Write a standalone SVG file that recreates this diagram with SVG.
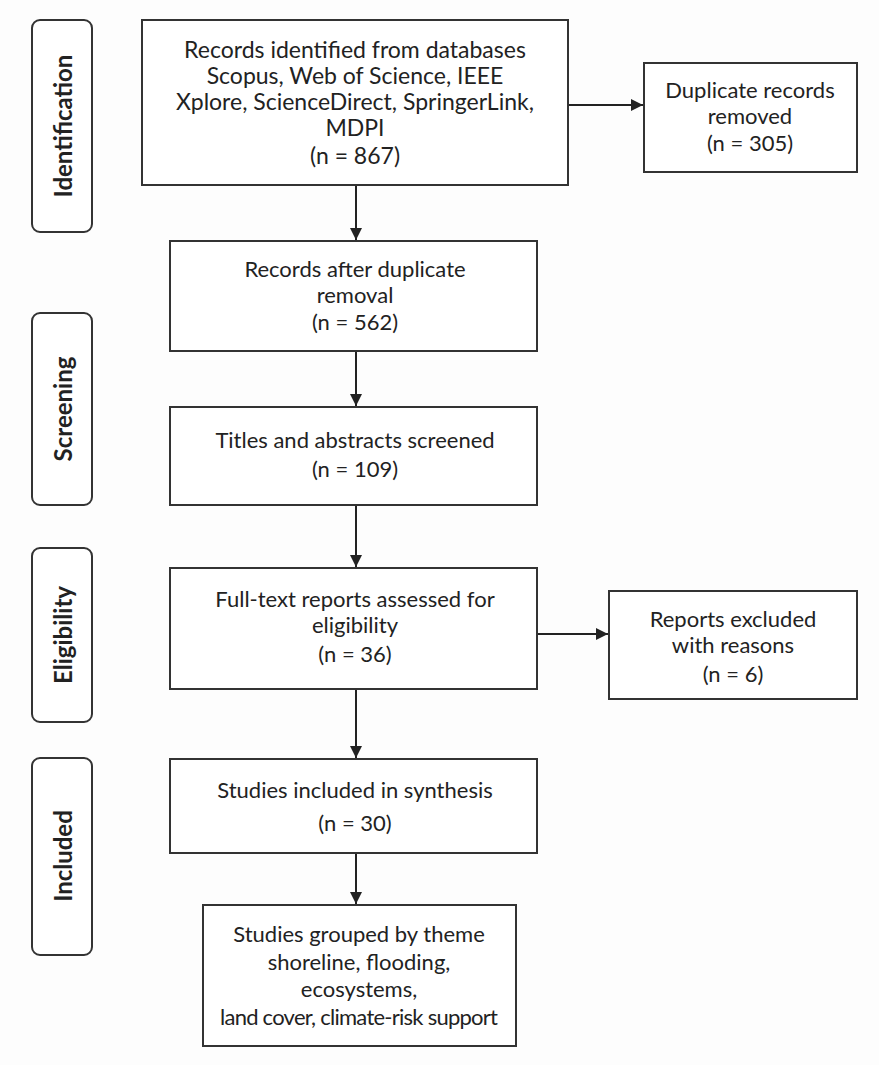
<svg xmlns="http://www.w3.org/2000/svg" width="879" height="1065" viewBox="0 0 879 1065">
  <style>
    .box { fill: #ffffff; stroke: #333333; stroke-width: 2; }
    .stage { fill: #ffffff; stroke: #333333; stroke-width: 2; }
    .txt { font-family: Lato, "Liberation Sans", sans-serif; font-size: 22px; fill: #222222; text-anchor: middle; }
    .big { font-size: 23px; }
    .lbl { font-family: Lato, "Liberation Sans", sans-serif; font-size: 24px; font-weight: bold; fill: #222222; text-anchor: middle; dominant-baseline: central; }
    .link { stroke: #222222; stroke-width: 2; fill: none; marker-end: url(#arrow); }
  </style>
  <defs>
    <marker id="arrow" viewBox="0 0 10 10" refX="10" refY="5" markerWidth="12" markerHeight="12" markerUnits="userSpaceOnUse" orient="auto">
      <path d="M0,0 L10,5 L0,10 z" fill="#222222"/>
    </marker>
  </defs>
  <rect width="879" height="1065" fill="#fdfdfd"/>

  <!-- stage labels -->
  <g id="stage-identification">
    <rect class="stage" x="32" y="20" width="60" height="212" rx="8"/>
    <text class="lbl" transform="translate(62,126) rotate(-90)">Identification</text>
  </g>
  <g id="stage-screening">
    <rect class="stage" x="32" y="313" width="60" height="192" rx="8"/>
    <text class="lbl" transform="translate(62,409) rotate(-90)">Screening</text>
  </g>
  <g id="stage-eligibility">
    <rect class="stage" x="32" y="548" width="60" height="174" rx="8"/>
    <text class="lbl" transform="translate(62,635) rotate(-90)">Eligibility</text>
  </g>
  <g id="stage-included">
    <rect class="stage" x="32" y="758" width="60" height="197" rx="8"/>
    <text class="lbl" transform="translate(62,856) rotate(-90)">Included</text>
  </g>

  <!-- connectors -->
  <g id="connectors">
    <line class="link" x1="568" y1="105" x2="643" y2="105"/>
    <line class="link" x1="356" y1="185" x2="356" y2="240"/>
    <line class="link" x1="356" y1="351" x2="356" y2="406"/>
    <line class="link" x1="356" y1="505" x2="356" y2="567"/>
    <line class="link" x1="537" y1="634" x2="608" y2="634"/>
    <line class="link" x1="356" y1="689" x2="356" y2="758"/>
    <line class="link" x1="356" y1="853" x2="356" y2="904"/>
  </g>

  <!-- flow boxes -->
  <g id="records-identified">
    <rect class="box" x="142" y="20" width="426" height="165"/>
    <text class="txt big" x="355" y="58">Records identified from databases</text>
    <text class="txt big" x="355" y="84">Scopus, Web of Science, IEEE</text>
    <text class="txt big" x="355" y="110">Xplore, ScienceDirect, SpringerLink,</text>
    <text class="txt big" x="355" y="136">MDPI</text>
    <text class="txt big" x="355" y="164">(n = 867)</text>
  </g>
  <g id="duplicates-removed">
    <rect class="box" x="644" y="63" width="213" height="109"/>
    <text class="txt" x="750" y="98">Duplicate records</text>
    <text class="txt" x="750" y="124">removed</text>
    <text class="txt" x="750" y="151">(n = 305)</text>
  </g>
  <g id="after-dedup">
    <rect class="box" x="170" y="241" width="367" height="110"/>
    <text class="txt" x="355" y="277">Records after duplicate</text>
    <text class="txt" x="355" y="303">removal</text>
    <text class="txt" x="355" y="330">(n = 562)</text>
  </g>
  <g id="screened">
    <rect class="box" x="170" y="407" width="367" height="98"/>
    <text class="txt" x="355" y="448">Titles and abstracts screened</text>
    <text class="txt" x="355" y="477">(n = 109)</text>
  </g>
  <g id="full-text">
    <rect class="box" x="170" y="568" width="367" height="121"/>
    <text class="txt" x="355" y="607">Full-text reports assessed for</text>
    <text class="txt" x="355" y="633">eligibility</text>
    <text class="txt" x="355" y="662">(n = 36)</text>
  </g>
  <g id="excluded">
    <rect class="box" x="609" y="591" width="248" height="108"/>
    <text class="txt" x="733" y="627">Reports excluded</text>
    <text class="txt" x="733" y="653">with reasons</text>
    <text class="txt" x="733" y="682">(n = 6)</text>
  </g>
  <g id="included">
    <rect class="box" x="170" y="759" width="367" height="94"/>
    <text class="txt" x="355" y="798">Studies included in synthesis</text>
    <text class="txt" x="355" y="831">(n = 30)</text>
  </g>
  <g id="themes">
    <rect class="box" x="203" y="905" width="313" height="141"/>
    <text class="txt" x="359" y="942">Studies grouped by theme</text>
    <text class="txt" x="359" y="970">shoreline, flooding,</text>
    <text class="txt" x="359" y="997">ecosystems,</text>
    <text class="txt" x="359" y="1025" textLength="278" lengthAdjust="spacing">land cover, climate-risk support</text>
  </g>
</svg>
